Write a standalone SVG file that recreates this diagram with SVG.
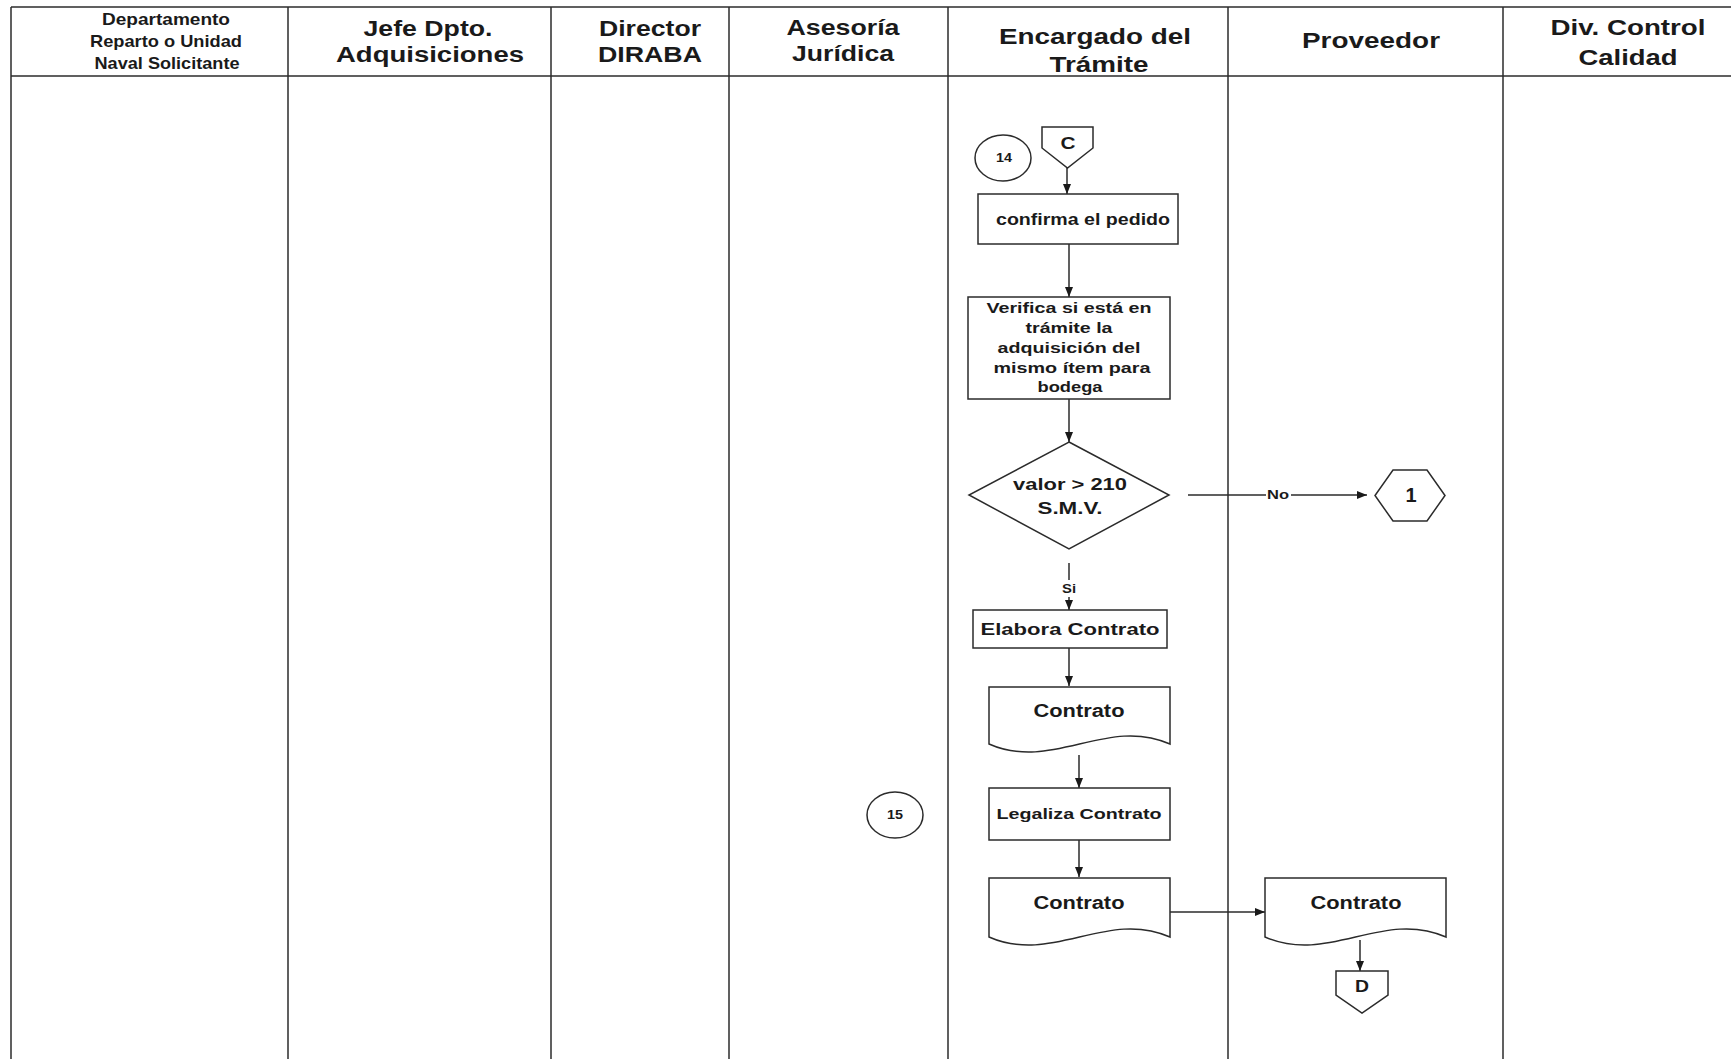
<svg xmlns="http://www.w3.org/2000/svg" width="1731" height="1059" viewBox="0 0 1731 1059">
<style>
.ln{stroke:#2b2b2b;stroke-width:1.5;fill:none}
.sh{stroke:#2b2b2b;stroke-width:1.5;fill:#fff}
.hd{font-family:"Liberation Sans",Arial,sans-serif;font-weight:bold;fill:#1a1a1a;text-anchor:middle}
.t{font-family:"Liberation Sans",Arial,sans-serif;font-weight:bold;fill:#1a1a1a;text-anchor:middle}
</style>
<defs>
<marker id="ah" viewBox="0 0 10 10" refX="10" refY="5" markerWidth="10" markerHeight="10" markerUnits="userSpaceOnUse" orient="auto">
<path d="M0,1 L10,5 L0,9 Z" fill="#1a1a1a"/>
</marker>
</defs>
<rect width="1731" height="1059" fill="#fff"/>
<g id="lanes">
<line class="ln" x1="11" y1="7" x2="1731" y2="7"/>
<line class="ln" x1="11" y1="76" x2="1731" y2="76"/>
<line class="ln" x1="11" y1="7" x2="11" y2="1059"/>
<line class="ln" x1="288" y1="7" x2="288" y2="1059"/>
<line class="ln" x1="551" y1="7" x2="551" y2="1059"/>
<line class="ln" x1="729" y1="7" x2="729" y2="1059"/>
<line class="ln" x1="948" y1="7" x2="948" y2="1059"/>
<line class="ln" x1="1228" y1="7" x2="1228" y2="1059"/>
<line class="ln" x1="1503" y1="7" x2="1503" y2="1059"/>
<text class="hd" font-size="17" x="166" y="25" lengthAdjust="spacingAndGlyphs" textLength="128">Departamento</text>
<text class="hd" font-size="17" x="166" y="47" lengthAdjust="spacingAndGlyphs" textLength="152">Reparto o Unidad</text>
<text class="hd" font-size="17" x="167" y="69" lengthAdjust="spacingAndGlyphs" textLength="145">Naval Solicitante</text>
<text class="hd" font-size="22" x="428" y="36" lengthAdjust="spacingAndGlyphs" textLength="129">Jefe Dpto.</text>
<text class="hd" font-size="22" x="430" y="62" lengthAdjust="spacingAndGlyphs" textLength="188">Adquisiciones</text>
<text class="hd" font-size="22" x="650" y="36" lengthAdjust="spacingAndGlyphs" textLength="102">Director</text>
<text class="hd" font-size="22" x="650" y="62" lengthAdjust="spacingAndGlyphs" textLength="104">DIRABA</text>
<text class="hd" font-size="22" x="843" y="35" lengthAdjust="spacingAndGlyphs" textLength="113">Asesoría</text>
<text class="hd" font-size="22" x="843" y="61" lengthAdjust="spacingAndGlyphs" textLength="102">Jurídica</text>
<text class="hd" font-size="22" x="1095" y="44" lengthAdjust="spacingAndGlyphs" textLength="192">Encargado del</text>
<text class="hd" font-size="22" x="1099" y="72" lengthAdjust="spacingAndGlyphs" textLength="99">Trámite</text>
<text class="hd" font-size="22" x="1371" y="48" lengthAdjust="spacingAndGlyphs" textLength="138">Proveedor</text>
<text class="hd" font-size="22" x="1628" y="35" lengthAdjust="spacingAndGlyphs" textLength="155">Div. Control</text>
<text class="hd" font-size="22" x="1628" y="65" lengthAdjust="spacingAndGlyphs" textLength="99">Calidad</text>
</g>
<g id="connectors">
<line class="ln" x1="1067" y1="168" x2="1067" y2="194" marker-end="url(#ah)"/>
<line class="ln" x1="1069" y1="244" x2="1069" y2="297" marker-end="url(#ah)"/>
<line class="ln" x1="1069" y1="399" x2="1069" y2="442" marker-end="url(#ah)"/>
<line class="ln" x1="1188" y1="495" x2="1266" y2="495"/>
<line class="ln" x1="1291" y1="495" x2="1367" y2="495" marker-end="url(#ah)"/>
<text class="t" font-size="12" x="1278" y="499" lengthAdjust="spacingAndGlyphs" textLength="22">No</text>
<line class="ln" x1="1069" y1="563" x2="1069" y2="580"/>
<text class="t" font-size="12" x="1069" y="593" lengthAdjust="spacingAndGlyphs" textLength="14">Si</text>
<line class="ln" x1="1069" y1="597" x2="1069" y2="610" marker-end="url(#ah)"/>
<line class="ln" x1="1069" y1="648" x2="1069" y2="686" marker-end="url(#ah)"/>
<line class="ln" x1="1079" y1="755" x2="1079" y2="788" marker-end="url(#ah)"/>
<line class="ln" x1="1079" y1="840" x2="1079" y2="877" marker-end="url(#ah)"/>
<line class="ln" x1="1170" y1="912" x2="1265" y2="912" marker-end="url(#ah)"/>
<line class="ln" x1="1360" y1="940" x2="1360" y2="971" marker-end="url(#ah)"/>
</g>
<g id="n14">
<ellipse class="sh" cx="1003" cy="158" rx="28" ry="23"/>
<text class="t" font-size="12" x="1004" y="162" lengthAdjust="spacingAndGlyphs" textLength="16">14</text>
</g>
<g id="nC">
<path class="sh" d="M1042,127 H1093 V148 L1067.5,168 L1042,148 Z"/>
<text class="t" font-size="17" x="1068" y="149" lengthAdjust="spacingAndGlyphs" textLength="15">C</text>
</g>
<g id="n_confirma">
<rect class="sh" x="978" y="194" width="200" height="50"/>
<text class="t" font-size="16" x="1083" y="225" lengthAdjust="spacingAndGlyphs" textLength="174">confirma el pedido</text>
</g>
<g id="n_verifica">
<rect class="sh" x="968" y="297" width="202" height="102"/>
<text class="t" font-size="15" x="1069" y="313" lengthAdjust="spacingAndGlyphs" textLength="165">Verifica si está en</text>
<text class="t" font-size="15" x="1069" y="333" lengthAdjust="spacingAndGlyphs" textLength="87">trámite la</text>
<text class="t" font-size="15" x="1069" y="353" lengthAdjust="spacingAndGlyphs" textLength="143">adquisición del</text>
<text class="t" font-size="15" x="1072" y="373" lengthAdjust="spacingAndGlyphs" textLength="157">mismo ítem para</text>
<text class="t" font-size="15" x="1070" y="392" lengthAdjust="spacingAndGlyphs" textLength="65">bodega</text>
</g>
<g id="n_decision">
<polygon class="sh" points="1069,442 1169,495 1069,549 969,495"/>
<text class="t" font-size="17" x="1070" y="490" lengthAdjust="spacingAndGlyphs" textLength="114">valor &gt; 210</text>
<text class="t" font-size="17" x="1070" y="514" lengthAdjust="spacingAndGlyphs" textLength="65">S.M.V.</text>
</g>
<g id="n1">
<polygon class="sh" points="1393,470 1427,470 1445,495.5 1427,521 1393,521 1375,495.5"/>
<text class="t" font-size="20" x="1411" y="502">1</text>
</g>
<g id="n_elabora">
<rect class="sh" x="973" y="610" width="194" height="38"/>
<text class="t" font-size="16" x="1070" y="635" lengthAdjust="spacingAndGlyphs" textLength="179">Elabora Contrato</text>
</g>
<g id="n_doc1">
<path class="sh" d="M989,687 H1170 V744 C1106.65,716 1052.35,772 989,744 Z"/>
<text class="t" font-size="18" x="1079" y="717" lengthAdjust="spacingAndGlyphs" textLength="91">Contrato</text>
</g>
<g id="n15">
<ellipse class="sh" cx="895" cy="815" rx="28" ry="23"/>
<text class="t" font-size="12" x="895" y="819" lengthAdjust="spacingAndGlyphs" textLength="16">15</text>
</g>
<g id="n_legaliza">
<rect class="sh" x="989" y="788" width="181" height="52"/>
<text class="t" font-size="14.5" x="1079" y="819" lengthAdjust="spacingAndGlyphs" textLength="165">Legaliza Contrato</text>
</g>
<g id="n_doc2">
<path class="sh" d="M989,878 H1170 V937 C1106.65,909 1052.35,965 989,937 Z"/>
<text class="t" font-size="18" x="1079" y="909" lengthAdjust="spacingAndGlyphs" textLength="91">Contrato</text>
</g>
<g id="n_doc3">
<path class="sh" d="M1265,878 H1446 V937 C1382.65,909 1328.35,965 1265,937 Z"/>
<text class="t" font-size="18" x="1356" y="909" lengthAdjust="spacingAndGlyphs" textLength="91">Contrato</text>
</g>
<g id="nD">
<path class="sh" d="M1336,971 H1388 V995 L1362,1013 L1336,995 Z"/>
<text class="t" font-size="16" x="1362" y="992" lengthAdjust="spacingAndGlyphs" textLength="14">D</text>
</g>
</svg>
